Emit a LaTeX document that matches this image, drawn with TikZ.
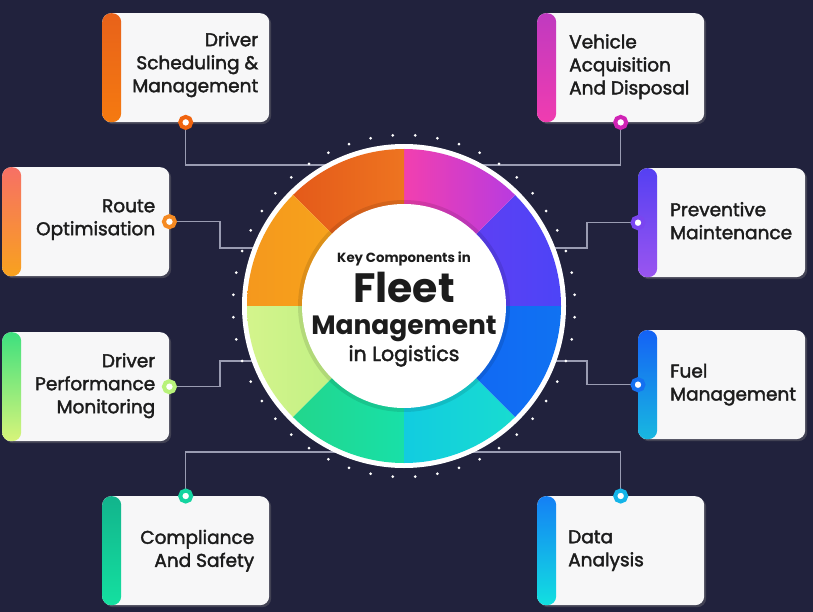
\documentclass[tikz,border=0pt]{standalone}
\usepackage{fontspec}
\setmainfont{Poppins}
\newfontfamily\cardfont{Poppins}[FakeBold=2]
\usetikzlibrary{shadows,backgrounds}
\definecolor{bg}{HTML}{21223D}
\definecolor{linegray}{HTML}{9A9CB2}
\definecolor{cardwhite}{HTML}{F7F7F8}
\definecolor{ink}{HTML}{1C1C1C}
% strips
\definecolor{dsA}{HTML}{E8621A}\definecolor{dsB}{HTML}{F57A10}
\definecolor{vaA}{HTML}{C03AC0}\definecolor{vaB}{HTML}{F03CB0}
\definecolor{roA}{HTML}{F77065}\definecolor{roB}{HTML}{F8A21E}
\definecolor{pmA}{HTML}{5540F2}\definecolor{pmB}{HTML}{9A55F0}
\definecolor{dpA}{HTML}{3EE07E}\definecolor{dpB}{HTML}{D8F47A}
\definecolor{fmA}{HTML}{1462F5}\definecolor{fmB}{HTML}{18B8E0}
\definecolor{csA}{HTML}{12B48C}\definecolor{csB}{HTML}{14E0A0}
\definecolor{daA}{HTML}{1480F5}\definecolor{daB}{HTML}{12E0E0}
% dots
\definecolor{dsD}{HTML}{F0640F}\definecolor{vaD}{HTML}{D023B5}
\definecolor{roD}{HTML}{F58A22}\definecolor{pmD}{HTML}{7A45F0}
\definecolor{dpD}{HTML}{B8F27A}\definecolor{fmD}{HTML}{1470F0}
\definecolor{csD}{HTML}{14D4A0}\definecolor{daD}{HTML}{14B4E8}
% wheel sectors
\definecolor{s0a}{HTML}{6A3CF0}\definecolor{s0b}{HTML}{4D44F7}
\definecolor{s1a}{HTML}{F23FAF}\definecolor{s1b}{HTML}{B83BE0}
\definecolor{s2a}{HTML}{E45A1A}\definecolor{s2b}{HTML}{EE7420}
\definecolor{s3a}{HTML}{F5981D}\definecolor{s3b}{HTML}{F8AC1A}
\definecolor{s4a}{HTML}{D4F48C}\definecolor{s4b}{HTML}{B2EE7E}
\definecolor{s5a}{HTML}{22D68C}\definecolor{s5b}{HTML}{18E0A8}
\definecolor{s6a}{HTML}{12CCE0}\definecolor{s6b}{HTML}{18DCD0}
\definecolor{s7a}{HTML}{1262F5}\definecolor{s7b}{HTML}{1072F2}
\tikzset{
  card/.style={rounded corners=9pt, fill=cardwhite, minimum width=167pt, minimum height=109pt,
    anchor=north west, inner sep=0pt,
    drop shadow={opacity=0.35, shadow xshift=2pt, shadow yshift=-2pt}},
  strip/.style={path picture={\shade[top color=#1A, bottom color=#1B]
    (path picture bounding box.north west) rectangle ([xshift=19pt]path picture bounding box.south west);}},
  cdot/.style={circle, draw=#1, line width=4pt, fill=white, minimum size=11pt, inner sep=0pt},
  conn/.style={draw=linegray, line width=1.3pt},
  ctext/.style={font=\cardfont\fontsize{18.5}{23}\selectfont, text=ink, inner sep=0pt},
  mtext/.style={text=ink, anchor=base, inner sep=0pt},
}
\begin{document}
\begin{tikzpicture}[x=1pt,y=-1pt]
\useasboundingbox (0,0) rectangle (813,612);
% cards
\node[card, strip=ds] (ds) at (102,13) {};
\node[card, strip=va] (va) at (537,13) {};
\node[card, strip=ro] (ro) at (2,167) {};
\node[card, strip=pm] (pm) at (638,168) {};
\node[card, strip=dp] (dp) at (2,332) {};
\node[card, strip=fm] (fm) at (638,330) {};
\node[card, strip=cs] (cs) at (102,496) {};
\node[card, strip=da] (da) at (537,496) {};
% card texts
\node[ctext, align=right, anchor=east] (dst) at ([xshift=-11pt,yshift=3pt]ds.east) {Driver\\Scheduling \&\\Management};
\node[ctext, align=left, anchor=west] (vat) at ([xshift=32pt,yshift=1pt]va.west) {Vehicle\\Acquisition\\And Disposal};
\node[ctext, align=right, anchor=east] (rot) at ([xshift=-14pt,yshift=2pt]ro.east) {Route\\Optimisation};
\node[ctext, align=left, anchor=west] (pmt) at ([xshift=32pt,yshift=2pt]pm.west) {Preventive\\Maintenance};
\node[ctext, align=right, anchor=east] (dpt) at ([xshift=-14pt,yshift=1pt]dp.east) {Driver\\Performance\\Monitoring};
\node[ctext, align=left, anchor=west] (fmt) at ([xshift=32pt]fm.west) {Fuel\\Management};
\node[ctext, align=right, anchor=east] (cst) at ([xshift=-15pt]cs.east) {Compliance\\And Safety};
\node[ctext, align=left, anchor=west] (dat) at ([xshift=31pt]da.west) {Data\\Analysis};
% connector dots
\node[cdot=dsD] (dsdot) at (ds.south) {};
\node[cdot=vaD] (vadot) at (va.south) {};
\node[cdot=roD] (rodot) at (ro.east) {};
\node[cdot=pmD] (pmdot) at (pm.west) {};
\node[cdot=dpD] (dpdot) at (dp.east) {};
\node[cdot=fmD] (fmdot) at (fm.west) {};
\node[cdot=csD] (csdot) at (cs.north) {};
\node[cdot=daD] (dadot) at (da.north) {};
% wheel
\coordinate (ctr) at (404,306);
\begin{scope}[shift={(404,306)}]
  \fill[white] (0,0) circle (162pt);
  \foreach \a/\s in {0/s0, 45/s1, 90/s2, 135/s3, 180/s4, 225/s5, 270/s6, 315/s7}{
    \shade[left color=\s a, right color=\s b]
      (0,0) -- (\a:157pt) arc[start angle=\a, end angle=\a+45, radius=157pt] -- cycle;
  }
  \fill[black, opacity=0.10] (0,0) circle (106pt);
  \fill[white] (0,0) circle (102pt);
  \foreach \i in {0,...,47}{\fill[white] (\i*7.5+3.75:171pt) circle (1.5pt);}
\end{scope}
\node[mtext, font=\bfseries\fontsize{13.3}{15}\selectfont, text height=9.5pt, text depth=3pt] (k1) at (404,262) {Key Components in};
\node[mtext, font=\bfseries\fontsize{41}{43}\selectfont, text height=29pt, text depth=0pt] (k2) at (404,302) {Fleet};
\node[mtext, font=\bfseries\fontsize{26.5}{28}\selectfont, text height=19pt, text depth=6pt] (k3) at (404,334) {Management};
\node[mtext, font=\cardfont\fontsize{20.5}{22}\selectfont, text height=15pt, text depth=5pt] (k4) at (404,361) {in Logistics};
% background + connectors
\begin{pgfonlayer}{background}
\fill[bg] (0,0) rectangle (813,612);
\coordinate (xl) at (220,0);
\coordinate (xr) at (587,0);
\coordinate (ya) at (0,165);
\coordinate (yb) at (0,248);
\coordinate (yc) at (0,361);
\coordinate (yd) at (0,452);
\draw[conn] (dsdot) |- (vadot |- ya) -- (vadot);
\draw[conn] (rodot) -| (xl |- yb) -- (xr |- yb) |- (pmdot);
\draw[conn] (dpdot) -| (xl |- yc) -- (xr |- yc) |- (fmdot);
\draw[conn] (csdot) |- (dadot |- yd) -- (dadot);
\end{pgfonlayer}
\end{tikzpicture}
\end{document}
